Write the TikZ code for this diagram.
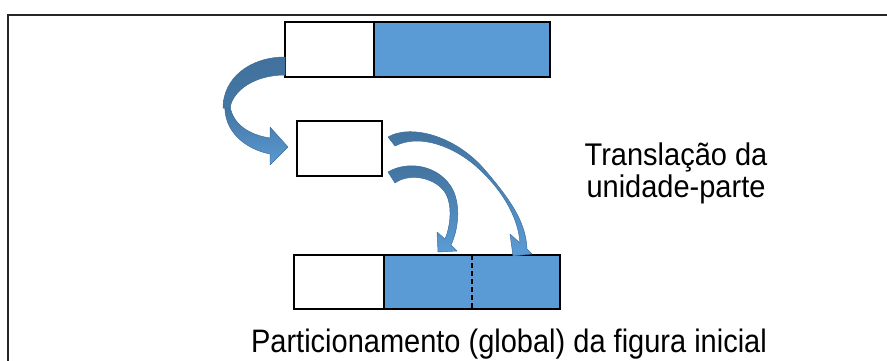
\documentclass[tikz,border=0pt]{standalone}
\usepackage{fontspec}
\usepackage{graphicx}
\setmainfont{Liberation Sans}
\definecolor{partblue}{HTML}{5B9BD5}
\definecolor{arrowdark}{HTML}{41719C}
\definecolor{arrowlight}{HTML}{5B9BD5}
\definecolor{arrowedge}{HTML}{3F6E9E}
\tikzset{
  box/.style={draw=black, line width=1.8pt, inner sep=0pt, outer sep=0pt, anchor=north west},
  blockarrow/.style={top color=arrowdark, bottom color=arrowlight, draw=arrowedge, line width=0.5pt, line join=round},
  backband/.style={top color=arrowdark, bottom color=arrowdark!85!arrowlight, draw=arrowedge, line width=0.5pt},
  caption/.style={font=\fontsize{29}{29}\selectfont, inner sep=0pt}
}
\begin{document}
\begin{tikzpicture}[x=1pt, y=-1pt]
\useasboundingbox (0,0) rectangle (887,360);

% outer frame (only the top and left sides fall inside the picture)
\draw[line width=2pt, draw=black!85] (8,362) -- (8,15) -- (889,15);

% whole figure: unit part and the rest
\node[box, fill=white, minimum width=89pt, minimum height=55pt] (topunit) at (285,22) {};
\node[box, fill=partblue, minimum width=176pt, minimum height=55pt] (toprest) at (374,22) {};

% the unit part on its own
\node[box, fill=white, minimum width=85pt, minimum height=55pt] (unit) at (297,121) {};

% partitioned figure
\node[box, fill=white, minimum width=90pt, minimum height=54pt] (botunit) at (294,255) {};
\node[box, fill=partblue, minimum width=176pt, minimum height=54pt] (botrest) at (384,255) {};
\draw[line width=1.2pt, dashed, dash pattern=on 5pt off 3pt] (472,255) -- (472,309);

% curved arrow: unit part taken out of the whole
\path[blockarrow]
  (225,104) .. controls (223,131) and (245,149) .. (270,154)
  -- (270,165) -- (288,147) -- (270,127) -- (270,138)
  .. controls (250,135) and (233,125) .. (230,106) -- cycle;
\path[backband]
  (285,57) .. controls (250,57) and (223,78) .. (223,108)
  -- (230,108) .. controls (233,90) and (255,75) .. (285,75) -- cycle;

% curved arrow: unit moved onto the first copy
\path[blockarrow]
  (388,172) .. controls (408,160) and (440,165) .. (453,190)
  .. controls (461,207) and (458,230) .. (451,245)
  -- (457,251) -- (438,252) -- (437,232) -- (445,239)
  .. controls (451,225) and (452,205) .. (446,194)
  .. controls (437,178) and (410,172) .. (395,183) -- cycle;

% curved arrow: unit moved onto the second copy
\path[blockarrow]
  (388,137) .. controls (410,124) and (455,135) .. (485,170)
  .. controls (507,196) and (526,220) .. (527,249)
  -- (532,254) -- (513,256) -- (510,234) -- (520,243)
  .. controls (518,215) and (500,188) .. (478,168)
  .. controls (455,147) and (420,133) .. (395,146) -- cycle;

% labels
\node[caption, anchor=base, align=center] (translabel) at (676,197)
  {\scalebox{1}[1.08]{Translação da}\\[1pt]\scalebox{1}[1.08]{unidade-parte}};
\node[caption, anchor=base] (partlabel) at (509,352)
  {\scalebox{1}[1.12]{Particionamento (global) da figura inicial}};
\end{tikzpicture}
\end{document}
